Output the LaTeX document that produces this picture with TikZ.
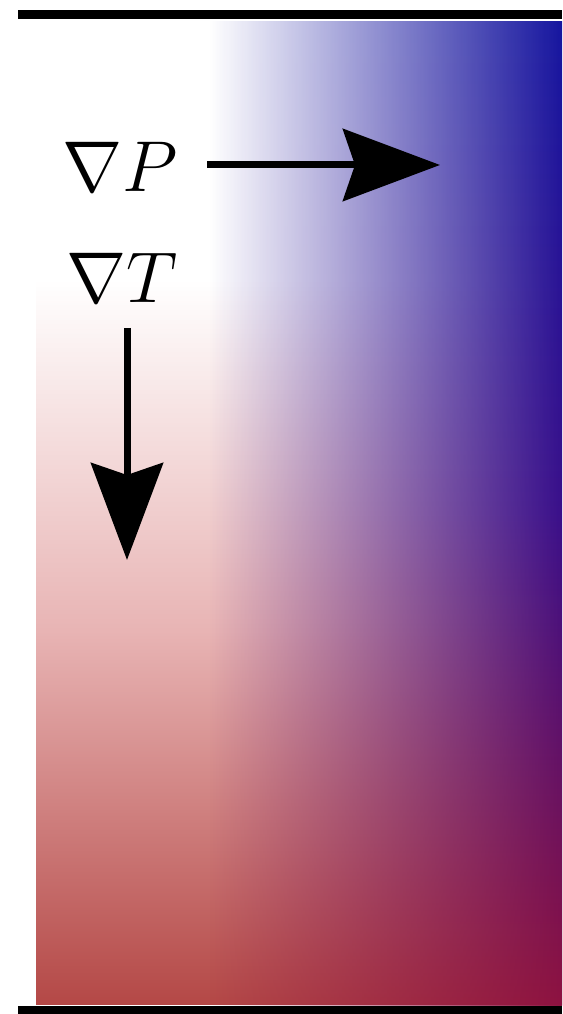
\documentclass[tikz,border=0pt]{standalone}
\usetikzlibrary{arrows.meta,fadings}
\definecolor{redbot}{HTML}{B44846}
\definecolor{redmid}{HTML}{E8B4B4}
\definecolor{bluetop}{HTML}{15159F}
\definecolor{purplemid}{HTML}{390F8A}
\definecolor{crimsonbot}{HTML}{8E1240}
\pgfdeclareverticalshading{heatshade}{100bp}{color(0bp)=(redbot); color(25bp)=(redbot); color(44bp)=(redmid); color(61.8bp)=(white); color(100bp)=(white)}
\pgfdeclareverticalshading{pressshade}{100bp}{color(0bp)=(crimsonbot); color(25bp)=(crimsonbot); color(50.1bp)=(purplemid); color(75bp)=(bluetop); color(100bp)=(bluetop)}
\tikzfading[name=pressfade, left color=transparent!100, right color=transparent!0]
\newcommand{\bigsym}[1]{\scalebox{2.894}{\fontsize{24.88}{30}\selectfont$#1$}}

\begin{document}
\begin{tikzpicture}[x=1pt, y=1pt,
  grad/.style={inner sep=0pt, anchor=base west},
  flow/.style={-{Stealth[length=97pt, width=72pt, inset=12pt]}, line width=7pt},
  wall/.style={line width=9pt}
]
  \useasboundingbox (0,0) rectangle (562,1014);
  \fill[white] (0,0) rectangle (562,1014);
  % temperature and pressure fields
  \shade[shading=heatshade] (36,9) rectangle (562,995);
  \shade[shading=pressshade, path fading=pressfade] (210,9) rectangle (562,995);
  % walls
  \draw[wall] (18,999) -- (562,999);
  \draw[wall] (18,3) -- (562,3);
  % gradients
  \node[grad] (gradP) at (62,822) {\bigsym{\nabla P}};
  \node[grad] (gradT) at (66,711) {\bigsym{\nabla T}};
  \coordinate (pStart) at (207,849);
  \coordinate (pEnd) at (440,849);
  \coordinate (tStart) at (127,686);
  \coordinate (tEnd) at (127,454);
  \draw[flow] (pStart) -- (pEnd);
  \draw[flow] (tStart) -- (tEnd);
\end{tikzpicture}
\end{document}
